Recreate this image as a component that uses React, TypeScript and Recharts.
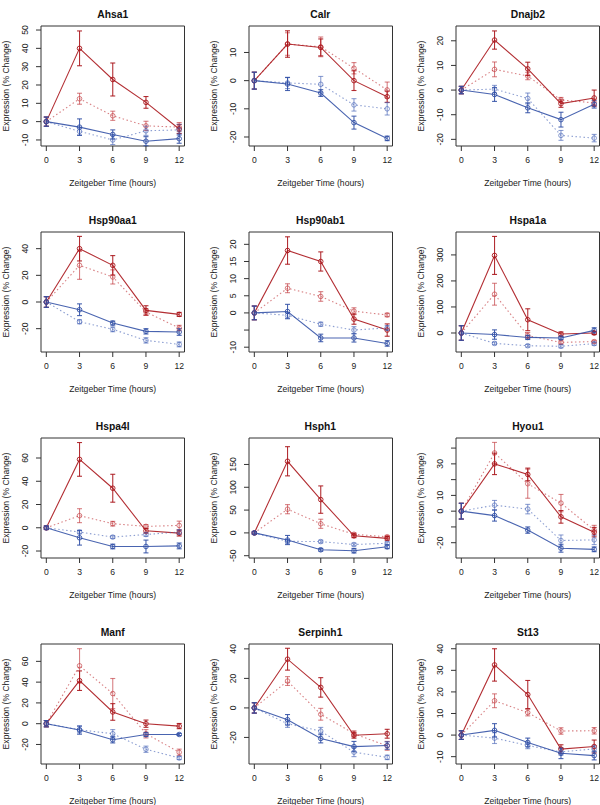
import React from 'react';
import { LineChart, Line, XAxis, YAxis, ErrorBar, ReferenceArea } from 'recharts';

// Zeitgeber time points (hours)
const HOURS = [0, 3, 6, 9, 12];

type Gene = {
    name: string;
    domain: [number, number];
    ticks: number[];
    shown: number[];
    rs: number[]; rsErr: number[];
    rd: number[]; rdErr: number[];
    bs: number[]; bsErr: number[];
    bd: number[]; bdErr: number[];
};

const ahsa1: Gene = {
    name: 'Ahsa1', domain: [-13.3, 52.2],
    ticks: [-10, 0, 10, 20, 30, 40, 50], shown: [-10, 0, 10, 20, 30, 40, 50],
    rs: [0, 40, 23, 10.5, -4], rsErr: [2.5, 9.5, 9, 3.2, 2.5],
    rd: [0, 12.5, 3.2, -2.3, -3], rdErr: [2.5, 3, 2.5, 2.5, 2.5],
    bs: [0, -3, -7, -10.7, -9.3], bsErr: [2.5, 4.5, 2.5, 2.5, 2.5],
    bd: [0, -5.3, -10, -5, -4.5], bdErr: [2.5, 2, 2.5, 2.5, 3],
};

const calr: Gene = {
    name: 'Calr', domain: [-23.2, 19.4],
    ticks: [-20, -10, 0, 10], shown: [-20, -10, 0, 10],
    rs: [0, 13, 11.8, 0, -5.7], rsErr: [3, 4.7, 3, 3.5, 2],
    rd: [0, 13, 12, 4.4, -3.3], rdErr: [3, 4, 3.5, 2, 2.8],
    bs: [0, -1.2, -4.4, -14.9, -20.5], bsErr: [3, 2.3, 1.2, 2.3, 0.8],
    bd: [0, -0.8, -1.3, -8.6, -10], bdErr: [3, 2, 2.8, 2.2, 2.2],
};

const dnajb2: Gene = {
    name: 'Dnajb2', domain: [-22.7, 26],
    ticks: [-20, -10, 0, 10, 20], shown: [-20, -10, 0, 10, 20],
    rs: [0, 20.3, 8.6, -5.5, -3.2], rsErr: [1.5, 3.7, 2.7, 1.5, 3.2],
    rd: [0, 8.4, 5.7, -4, -5.2], rdErr: [1.5, 3, 1.5, 1, 1.5],
    bs: [0, -1.8, -7.2, -12, -5.8], bsErr: [1.5, 2.8, 2, 3, 1.5],
    bd: [0, 0.4, -3.4, -18.4, -19.5], bdErr: [1.5, 1.5, 2.2, 2, 1.5],
};

const hsp90aa1: Gene = {
    name: 'Hsp90aa1', domain: [-37.5, 52.5],
    ticks: [-20, 0, 20, 40], shown: [-20, 0, 20, 40],
    rs: [0, 40, 27.5, -6.3, -9.3], rsErr: [4, 9.2, 7.3, 3.5, 1.5],
    rd: [0, 27.5, 18.8, -7.5, -19.5], rdErr: [4, 10.5, 5.3, 2.5, 2],
    bs: [0, -5.8, -15.8, -22, -22.5], bsErr: [4, 4.4, 1.5, 2, 2.5],
    bd: [0, -14.8, -20.5, -28.8, -31.8], bdErr: [4, 1.5, 1.8, 2, 1.8],
};

const hsp90ab1: Gene = {
    name: 'Hsp90ab1', domain: [-11.4, 23.6],
    ticks: [-10, -5, 0, 5, 10, 15, 20], shown: [-10, 0, 5, 10, 15, 20],
    rs: [0, 18.2, 15, -1.8, -5], rsErr: [2, 4, 2.8, 1.5, 1.8],
    rd: [0, 7.2, 4.8, 0.5, -0.6], rdErr: [2, 1.3, 1.4, 1, 0.5],
    bs: [0, 0.4, -7.3, -7.3, -8.9], bsErr: [2, 2.1, 1.1, 1.2, 0.8],
    bd: [0, -0.7, -3.3, -5, -4.4], bdErr: [2, 0.8, 0.6, 1, 0.7],
};

const hspa1a: Gene = {
    name: 'Hspa1a', domain: [-73, 388],
    ticks: [0, 100, 200, 300], shown: [0, 100, 200, 300],
    rs: [0, 298, 51, -4, 0], rsErr: [28, 73, 42, 8, 6],
    rd: [0, 149, -10, -36, -33], rdErr: [28, 42, 12, 6, 5],
    bs: [0, -6, -17, -19, 10], bsErr: [28, 18, 8, 6, 10],
    bd: [0, -40, -49, -51, -41], bdErr: [28, 5, 5, 6, 6],
};

const hspa4l: Gene = {
    name: 'Hspa4l', domain: [-26, 77.2],
    ticks: [-20, 0, 20, 40, 60], shown: [-20, 0, 20, 40, 60],
    rs: [0, 58.8, 34, -2.6, -4.6], rsErr: [1.5, 14.5, 12, 2, 2.5],
    rd: [0, 10.4, 3.5, 1.2, 2], rdErr: [1.5, 6, 2, 1.5, 3.7],
    bs: [0, -8.6, -16.1, -16.1, -15.6], bsErr: [1.5, 6.3, 2, 5.5, 2.5],
    bd: [0, -3.7, -8, -5.8, -3.7], bdErr: [1.5, 1.5, 1.2, 1.5, 2],
};

const hsph1: Gene = {
    name: 'Hsph1', domain: [-55, 208],
    ticks: [-50, 0, 50, 100, 150], shown: [-50, 0, 50, 100, 150],
    rs: [0, 157, 73, -6.4, -12], rsErr: [3, 32, 30, 4, 4],
    rd: [0, 52, 20, -3, -8.5], rdErr: [3, 10, 10, 3, 3],
    bs: [0, -15.6, -37, -39, -30.5], bsErr: [3, 10, 3, 5, 4],
    bd: [0, -18.5, -19, -25.5, -22.7], bdErr: [3, 4, 3, 3, 3],
};

const hyou1: Gene = {
    name: 'Hyou1', domain: [-29.7, 46.4],
    ticks: [-20, -10, 0, 10, 20, 30, 40], shown: [-20, 0, 10, 30],
    rs: [0, 30, 23.3, -3.6, -13.3], rsErr: [5, 6.8, 4, 4, 3],
    rd: [0, 36.9, 17.4, 5.1, -12], rdErr: [5, 6.7, 9.2, 5.5, 3],
    bs: [0, -2.8, -12, -23.5, -24.2], bsErr: [5, 3.5, 2, 2.5, 1.5],
    bd: [0, 3.8, 1.3, -18.6, -18.2], bdErr: [5, 3, 3, 3.5, 3],
};

const manf: Gene = {
    name: 'Manf', domain: [-38.8, 76.7],
    ticks: [-20, 0, 20, 40, 60], shown: [-20, 0, 20, 40, 60],
    rs: [0, 41.4, 11.3, 0, -2.3], rsErr: [3, 9.4, 8, 3.5, 2.5],
    rd: [0, 55.7, 29, -9.7, -27.5], rdErr: [3, 16.5, 14.5, 4, 3],
    bs: [0, -6.1, -15.5, -10.4, -10.4], bsErr: [3, 4, 3, 2, 1],
    bd: [0, -5.8, -9.7, -24.6, -33], bdErr: [3, 3, 4, 3, 1.5],
};

const serpinh1: Gene = {
    name: 'Serpinh1', domain: [-38, 43.3],
    ticks: [-20, 0, 20, 40], shown: [-20, 0, 20, 40],
    rs: [0, 33, 13.9, -18.5, -17.5], rsErr: [3.5, 7.4, 6.6, 2, 3],
    rd: [0, 18.2, -4.3, -17.5, -25.7], rdErr: [3.5, 3, 4, 2, 3],
    bs: [0, -8, -20.7, -26.2, -25.5], bsErr: [3.5, 3.5, 3, 3.5, 2.5],
    bd: [0, -10.7, -15.7, -30, -33.5], bdErr: [3.5, 2.5, 2.5, 3, 1.5],
};

const st13: Gene = {
    name: 'St13', domain: [-13.4, 42.2],
    ticks: [-10, 0, 10, 20, 30, 40], shown: [-10, 0, 10, 20, 30, 40],
    rs: [0, 32.5, 18.8, -6.5, -5.3], rsErr: [2, 7.5, 6.5, 2, 3],
    rd: [0, 15.9, 10.4, 1.9, 2], rdErr: [2, 3.2, 1.5, 1.5, 1.5],
    bs: [0, 2.2, -3.4, -8.4, -9.5], bsErr: [2, 3.1, 2, 2.5, 2],
    bd: [0, -1.4, -4.8, -7.8, -6.4], bdErr: [2, 2.5, 1.5, 1.5, 1.5],
};

const GENES = [ahsa1, calr, dnajb2, hsp90aa1, hsp90ab1, hspa1a, hspa4l, hsph1, hyou1, manf, serpinh1, st13];

const FONT = '"Liberation Sans", Arial, Helvetica, sans-serif';
const RED_SOLID = 'rgba(168,18,24,0.88)';
const RED_DOT = 'rgba(190,45,50,0.6)';
const BLUE_SOLID = 'rgba(48,78,165,0.88)';
const BLUE_DOT = 'rgba(65,95,180,0.6)';

const CHART_W = 207;
const CHART_H = 206;
const Y_AXIS_W = 41;
const BOX_TOP = 26;
const BOX_W = 143.5;
const BOX_H = 120;
const COL_STEP = 207.6;
const ROW_STEP = 206.1;

const YTick = (props: any) => {
    const { x, y, payload, shown } = props;
    if (!shown.includes(payload.value)) return null;
    const bx = x - 8;
    return (
        <text x={bx} y={y} transform={`rotate(-90, ${bx}, ${y})`} textAnchor="middle"
            fontSize={8.6} fill="#222" fontFamily={FONT}>
            {payload.value}
        </text>
    );
};

const Panel: React.FC<{ gene: Gene; left: number; top: number }> = ({ gene, left, top }) => {
    const rows = HOURS.map((t, i) => ({
        t,
        rs: gene.rs[i], rsE: gene.rsErr[i],
        rd: gene.rd[i], rdE: gene.rdErr[i],
        bs: gene.bs[i], bsE: gene.bsErr[i],
        bd: gene.bd[i], bdE: gene.bdErr[i],
    }));
    const xDomain: [number, number] = [-0.48, 12.48];
    const dot = (c: string) => ({ r: 2.3, fill: 'none', stroke: c, strokeWidth: 1, strokeDasharray: 'none' });

    return (
        <div style={{ position: 'absolute', left, top, width: CHART_W, height: CHART_H }}>
            <div style={{
                position: 'absolute', left: Y_AXIS_W, width: BOX_W, top: 8, textAlign: 'center',
                fontFamily: FONT, fontWeight: 'bold', fontSize: 10.3, lineHeight: '14px', color: '#111',
            }}>{gene.name}</div>
            <LineChart width={CHART_W} height={CHART_H} data={rows}
                margin={{ top: BOX_TOP, right: CHART_W - Y_AXIS_W - BOX_W, bottom: 0, left: 0 }}>
                <XAxis dataKey="t" type="number" domain={xDomain} allowDataOverflow ticks={HOURS} interval={0}
                    height={CHART_H - BOX_TOP - BOX_H} tickSize={5} tickMargin={6} axisLine={false}
                    tickLine={{ stroke: '#333' }} tick={{ fontSize: 8.6, fill: '#222', fontFamily: FONT }}
                    label={{
                        content: () => (
                            <text x={Y_AXIS_W + BOX_W / 2} y={186} textAnchor="middle" fontSize={8.6}
                                fill="#222" fontFamily={FONT}>Zeitgeber Time (hours)</text>
                        ),
                    }} />
                <YAxis type="number" domain={gene.domain} allowDataOverflow ticks={gene.ticks} interval={0}
                    width={Y_AXIS_W} tickSize={5} tickMargin={0} axisLine={false}
                    tickLine={{ stroke: '#333' }} tick={<YTick shown={gene.shown} />}
                    label={{
                        content: () => (
                            <text x={9} y={BOX_TOP + BOX_H / 2} transform={`rotate(-90, 9, ${BOX_TOP + BOX_H / 2})`}
                                textAnchor="middle" fontSize={8.6} fill="#222" fontFamily={FONT}>
                                Expression (% Change)
                            </text>
                        ),
                    }} />
                <ReferenceArea x1={xDomain[0]} x2={xDomain[1]} y1={gene.domain[0]} y2={gene.domain[1]}
                    fill="none" stroke="#333" strokeWidth={1} ifOverflow="visible" />
                <Line dataKey="rd" stroke={RED_DOT} strokeWidth={1.1} strokeDasharray="1.5 2.5"
                    dot={dot(RED_DOT)} isAnimationActive={false}>
                    <ErrorBar dataKey="rdE" width={2.5} stroke={RED_DOT} strokeWidth={1.1} />
                </Line>
                <Line dataKey="rs" stroke={RED_SOLID} strokeWidth={1.1}
                    dot={dot(RED_SOLID)} isAnimationActive={false}>
                    <ErrorBar dataKey="rsE" width={2.5} stroke={RED_SOLID} strokeWidth={1.1} />
                </Line>
                <Line dataKey="bd" stroke={BLUE_DOT} strokeWidth={1.1} strokeDasharray="1.5 2.5"
                    dot={dot(BLUE_DOT)} isAnimationActive={false}>
                    <ErrorBar dataKey="bdE" width={2.5} stroke={BLUE_DOT} strokeWidth={1.1} />
                </Line>
                <Line dataKey="bs" stroke={BLUE_SOLID} strokeWidth={1.1}
                    dot={dot(BLUE_SOLID)} isAnimationActive={false}>
                    <ErrorBar dataKey="bsE" width={2.5} stroke={BLUE_SOLID} strokeWidth={1.1} />
                </Line>
            </LineChart>
        </div>
    );
};

export default function App() {
    return (
        <div style={{
            position: 'absolute', left: 0, top: 0, width: 600, height: 805,
            overflow: 'hidden', background: '#fff',
        }}>
            {GENES.map((g, i) => (
                <Panel key={g.name} gene={g} left={(i % 3) * COL_STEP} top={Math.floor(i / 3) * ROW_STEP} />
            ))}
        </div>
    );
}
